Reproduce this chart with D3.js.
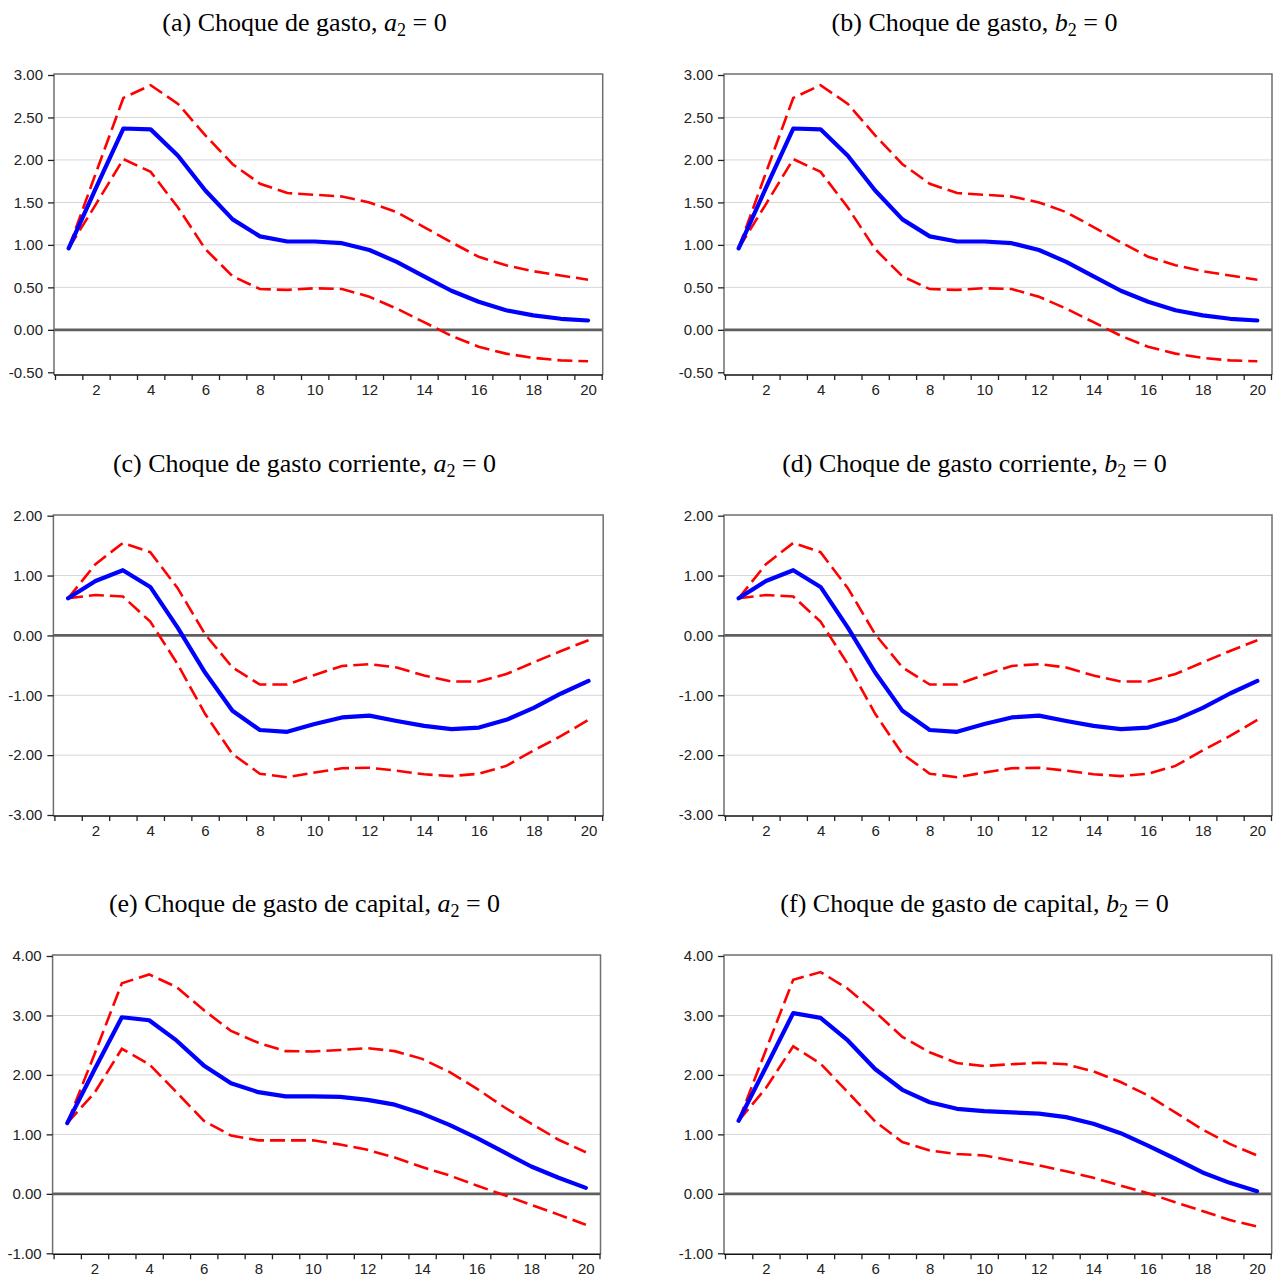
<!DOCTYPE html>
<html lang="es">
<head>
<meta charset="utf-8">
<script src="https://cdn.jsdelivr.net/npm/d3@7"></script>
<style>
  body { margin: 0; background: #fff; }
  svg { display: block; }
</style>
</head>
<body>
<svg id="chart" width="1275" height="1277"></svg>
<script>
// horizonte de la respuesta
const periodos = [1, 2, 3, 4, 5, 6, 7, 8, 9, 10, 11, 12, 13, 14, 15, 16, 17, 18, 19, 20];
const xEtiquetas = [2, 4, 6, 8, 10, 12, 14, 16, 18, 20];

// choque de gasto (a) y (b)
const gastoResp = [0.96, 1.67, 2.37, 2.36, 2.05, 1.64, 1.30, 1.10, 1.04, 1.04, 1.02, 0.94, 0.80, 0.63, 0.46, 0.33, 0.23, 0.17, 0.13, 0.11];
const gastoSup = [0.96, 1.85, 2.73, 2.88, 2.66, 2.29, 1.95, 1.72, 1.61, 1.59, 1.57, 1.50, 1.385, 1.21, 1.03, 0.86, 0.76, 0.69, 0.64, 0.59];
const gastoInf = [0.96, 1.48, 2.01, 1.86, 1.44, 0.95, 0.63, 0.48, 0.47, 0.49, 0.48, 0.39, 0.25, 0.09, -0.07, -0.20, -0.28, -0.33, -0.36, -0.37];

// choque de gasto corriente (c) y (d)
const corrResp = [0.62, 0.91, 1.09, 0.81, 0.13, -0.62, -1.26, -1.58, -1.61, -1.48, -1.37, -1.34, -1.43, -1.51, -1.565, -1.54, -1.41, -1.21, -0.97, -0.76];
const corrSup = [0.62, 1.19, 1.545, 1.39, 0.79, 0.02, -0.535, -0.82, -0.82, -0.66, -0.51, -0.48, -0.535, -0.67, -0.77, -0.77, -0.645, -0.45, -0.26, -0.08];
const corrInf = [0.62, 0.675, 0.65, 0.23, -0.48, -1.31, -1.98, -2.31, -2.37, -2.29, -2.22, -2.21, -2.26, -2.32, -2.35, -2.31, -2.18, -1.92, -1.68, -1.41];

// choque de gasto de capital, a2 = 0 (e)
const capARes = [1.19, 2.09, 2.97, 2.92, 2.58, 2.16, 1.86, 1.71, 1.64, 1.64, 1.63, 1.58, 1.50, 1.35, 1.16, 0.94, 0.70, 0.46, 0.27, 0.10];
const capASup = [1.19, 2.35, 3.54, 3.69, 3.48, 3.09, 2.74, 2.54, 2.40, 2.395, 2.42, 2.45, 2.40, 2.27, 2.05, 1.77, 1.46, 1.18, 0.91, 0.70];
const capAInf = [1.19, 1.70, 2.44, 2.18, 1.71, 1.23, 0.98, 0.90, 0.90, 0.90, 0.83, 0.74, 0.61, 0.45, 0.31, 0.14, -0.02, -0.185, -0.35, -0.52];

// choque de gasto de capital, b2 = 0 (f)
const capBRes = [1.23, 2.13, 3.04, 2.96, 2.58, 2.10, 1.75, 1.54, 1.43, 1.39, 1.37, 1.35, 1.29, 1.18, 1.02, 0.81, 0.59, 0.36, 0.185, 0.045];
const capBSup = [1.23, 2.42, 3.60, 3.73, 3.45, 3.06, 2.64, 2.38, 2.20, 2.15, 2.18, 2.205, 2.18, 2.06, 1.88, 1.655, 1.37, 1.08, 0.84, 0.645];
const capBInf = [1.23, 1.78, 2.48, 2.19, 1.71, 1.22, 0.87, 0.73, 0.67, 0.645, 0.56, 0.48, 0.38, 0.27, 0.14, 0.01, -0.14, -0.29, -0.44, -0.55];

// ticks del eje y
const ticksGasto = [3.00, 2.50, 2.00, 1.50, 1.00, 0.50, 0.00, -0.50];
const ticksCorr = [2.00, 1.00, 0.00, -1.00, -2.00, -3.00];
const ticksCap = [4.00, 3.00, 2.00, 1.00, 0.00, -1.00];

// titulos
const titulos = [
  "(a) Choque de gasto, ",
  "(b) Choque de gasto, ",
  "(c) Choque de gasto corriente, ",
  "(d) Choque de gasto corriente, ",
  "(e) Choque de gasto de capital, ",
  "(f) Choque de gasto de capital, "
];
const restriccion = ["a", "b", "a", "b", "a", "b"];

// mise en page de chaque panneau
const paneles = [
  { resp: gastoResp, sup: gastoSup, inf: gastoInf, ticks: ticksGasto, left: 54, right: 602.7, top: 74, bottom: 375, yTop: 75, yBot: 372.3, cx: 304.5 },
  { resp: gastoResp, sup: gastoSup, inf: gastoInf, ticks: ticksGasto, left: 724, right: 1272, top: 74, bottom: 375, yTop: 75, yBot: 372.3, cx: 974.5 },
  { resp: corrResp, sup: corrSup, inf: corrInf, ticks: ticksCorr, left: 53.4, right: 603.2, top: 515, bottom: 816, yTop: 515.7, yBot: 815, cx: 304.5 },
  { resp: corrResp, sup: corrSup, inf: corrInf, ticks: ticksCorr, left: 724, right: 1272, top: 515, bottom: 816, yTop: 515.7, yBot: 815, cx: 974.5 },
  { resp: capARes, sup: capASup, inf: capAInf, ticks: ticksCap, left: 52.6, right: 600.5, top: 955, bottom: 1254.3, yTop: 956, yBot: 1253.3, cx: 304.5 },
  { resp: capBRes, sup: capBSup, inf: capBInf, ticks: ticksCap, left: 724, right: 1271.7, top: 955, bottom: 1254.3, yTop: 956, yBot: 1253.3, cx: 974.5 }
];

const svg = d3.select("#chart");
const sansFont = "'Liberation Sans', Arial, sans-serif";
const serifFont = "'Liberation Serif', 'Times New Roman', serif";

paneles.forEach((p, k) => {
  const g = svg.append("g");

  const x = d3.scaleLinear()
      .domain([0.5, 20.5])
      .range([p.left + 1, p.right - 1]);

  const y = d3.scaleLinear()
      .domain([d3.min(p.ticks), d3.max(p.ticks)])
      .range([p.yBot, p.yTop]);

  // titre
  const t = g.append("text")
      .attr("x", p.cx)
      .attr("y", p.top - 43)
      .attr("text-anchor", "middle")
      .attr("font-family", serifFont)
      .attr("font-size", 26)
      .attr("fill", "#000");
  t.append("tspan").text(titulos[k]);
  t.append("tspan").attr("font-style", "italic").text(restriccion[k]);
  t.append("tspan").attr("font-size", 18).attr("dy", 5).text("2");
  t.append("tspan").attr("dy", -5).text(" = 0");

  // grille horizontale
  const interieur = p.ticks.filter(d => d !== 0 && d !== d3.max(p.ticks) && d !== d3.min(p.ticks));
  g.append("g")
      .selectAll("line")
      .data(interieur)
      .join("line")
      .attr("x1", p.left)
      .attr("x2", p.right)
      .attr("y1", d => y(d))
      .attr("y2", d => y(d))
      .attr("stroke", "#d6d6d6")
      .attr("stroke-width", 1);

  // ligne zero
  g.append("line")
      .attr("x1", p.left)
      .attr("x2", p.right)
      .attr("y1", y(0))
      .attr("y2", y(0))
      .attr("stroke", "#5e5e5e")
      .attr("stroke-width", 2.6);

  // cadre
  g.append("path")
      .attr("d", `M${p.left},${p.bottom}V${p.top}H${p.right}V${p.bottom}`)
      .attr("fill", "none")
      .attr("stroke", "#6f6f6f")
      .attr("stroke-width", 1.5);

  // axe y
  const yAxis = g.append("g")
      .attr("transform", `translate(${p.left},0)`)
      .call(d3.axisLeft(y)
          .tickValues(p.ticks)
          .tickFormat(d => d.toFixed(2))
          .tickSize(6)
          .tickPadding(5));
  yAxis.select(".domain").remove();
  yAxis.selectAll("line").attr("stroke", "#222").attr("stroke-width", 1.3);
  yAxis.selectAll("text")
      .attr("font-family", sansFont)
      .attr("font-size", 15)
      .attr("fill", "#222");

  // axe x : ticks entre les periodes
  const xAxis = g.append("g")
      .attr("transform", `translate(0,${p.bottom})`)
      .call(d3.axisBottom(x)
          .tickValues(d3.range(0.5, 21, 1))
          .tickFormat("")
          .tickSize(5)
          .tickSizeOuter(0));
  xAxis.select(".domain")
      .attr("d", `M${p.left},0H${p.right}`)
      .attr("stroke", "#111")
      .attr("stroke-width", 1.5);
  xAxis.selectAll("line").attr("stroke", "#222").attr("stroke-width", 1.3);

  // etiquettes x
  const xLab = g.append("g")
      .attr("transform", `translate(0,${p.bottom})`)
      .call(d3.axisBottom(x)
          .tickValues(xEtiquetas)
          .tickSize(0)
          .tickPadding(9));
  xLab.select(".domain").remove();
  xLab.selectAll("text")
      .attr("font-family", sansFont)
      .attr("font-size", 15)
      .attr("fill", "#222");

  const line = d3.line()
      .x((d, i) => x(periodos[i]))
      .y(d => y(d));

  // bandes de confiance
  [p.sup, p.inf].forEach(serie => {
    g.append("path")
        .datum(serie)
        .attr("d", line)
        .attr("fill", "none")
        .attr("stroke", "#ff0000")
        .attr("stroke-width", 2.6)
        .attr("stroke-dasharray", "15,6");
  });

  // reponse
  g.append("path")
      .datum(p.resp)
      .attr("d", line)
      .attr("fill", "none")
      .attr("stroke", "#0000ff")
      .attr("stroke-width", 4.2)
      .attr("stroke-linejoin", "round")
      .attr("stroke-linecap", "round");
});
</script>
</body>
</html>
